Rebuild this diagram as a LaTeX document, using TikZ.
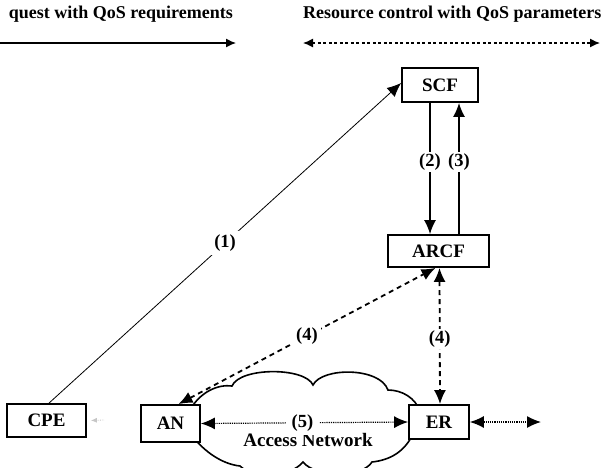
\documentclass[tikz,border=0pt]{standalone}
\usepackage{fontspec}
\setmainfont{Liberation Serif}
\usetikzlibrary{arrows.meta,calc}
\begin{document}
\begin{tikzpicture}[x=1pt,y=-1pt,
  box/.style={draw,line width=1.8pt,fill=white,inner sep=0pt,font=\fontsize{19}{21}\selectfont\bfseries},
  lbl/.style={fill=white,inner sep=3.5pt,font=\fontsize{18.5}{20}\selectfont\bfseries},
  txt/.style={inner sep=0pt,font=\fontsize{18}{20}\selectfont\bfseries},
  tipend/.style={-{Latex[length=14pt,width=12pt]}},
  tipboth/.style={{Latex[length=14pt,width=12pt]}-{Latex[length=14pt,width=12pt]}},
  smalltips/.style={{Latex[length=10pt,width=9pt]}-{Latex[length=10pt,width=9pt]}},
  dashline/.style={line width=1.8pt,dash pattern=on 5pt off 4pt},
  fineline/.style={line width=1.3pt,dash pattern=on 3pt off 2.5pt},
  dotline/.style={line width=1.2pt,densely dotted},
  cloudline/.style={line width=1.6pt}
]
\useasboundingbox (0,0) rectangle (606,467);

% header
\node[txt,anchor=base east] (reqtxt) at (233,18) {quest with QoS requirements};
\node[txt,anchor=base west] (restxt) at (303,18) {Resource control with QoS parameters};
\coordinate (tl1) at (0,43);
\coordinate (tl2) at (236,43);
\coordinate (tr1) at (303,43);
\coordinate (tr2) at (600,43);
\draw[line width=1.3pt,-{Latex[length=10pt,width=9pt]}] (tl1) -- (tl2);
\draw[fineline,smalltips] (tr1) -- (tr2);

% cloud
\draw[cloudline]
  (190,410) .. controls (200,392) and (218,384) .. (232,386)
  .. controls (240,367) and (305,367) .. (313,385)
  .. controls (322,367) and (380,367) .. (388,390)
  .. controls (402,390) and (416,398) .. (420,412)
  -- (414,432)
  .. controls (405,452) and (390,460) .. (372,462)
  .. controls (362,478) and (316,478) .. (303,462)
  .. controls (290,478) and (252,478) .. (240,466)
  .. controls (222,464) and (205,452) .. (192,436) -- cycle;

% boxes
\node[box,minimum width=76pt,minimum height=34pt] (SCF) at (440,85) {SCF};
\node[box,minimum width=101pt,minimum height=32pt] (ARCF) at (438.5,251) {ARCF};
\node[box,minimum width=79pt,minimum height=33pt] (CPE) at (46.5,420.5) {CPE};
\node[box,minimum width=59pt,minimum height=37pt] (AN) at (170.5,423.5) {AN};
\node[box,minimum width=60pt,minimum height=34pt] (ER) at (439,422) {ER};

\node[txt,font=\fontsize{19}{21}\selectfont\bfseries] (accnet) at (308,440) {Access Network};

% (1)
\draw[line width=0.8pt,tipend] ([xshift=2.5pt]CPE.north) -- node[lbl,pos=0.5] {(1)} ([yshift=2pt]SCF.west);

% (2) and (3)
\draw[line width=1.5pt,tipend] ([xshift=-10pt]SCF.south) -- node[lbl,pos=0.45,inner sep=1.5pt] {(2)} ([xshift=-10pt]SCF.south |- ARCF.north);
\draw[line width=1.5pt,tipend] ([xshift=19pt]SCF.south |- ARCF.north) -- node[lbl,pos=0.55,inner sep=1.5pt] {(3)} ([xshift=19pt]SCF.south);

% (4)
\draw[dashline,tipboth] ([xshift=8pt]AN.north) -- node[lbl,pos=0.5] {(4)} ([xshift=-3pt]ARCF.south);
\draw[dashline,tipboth] ([xshift=1pt]ARCF.south) -- node[lbl,pos=0.52,inner sep=1.5pt] {(4)} ([xshift=1pt]ER.north);

% (5)
\draw[dotline,tipboth] (AN.east) -- node[lbl,pos=0.49,inner xsep=6pt] {(5)} (ER.west);

% ER outward
\coordinate (out) at (541,422);
\draw[dotline,tipboth] (ER.east) -- (out);

% faint CPE-AN
\coordinate (faint) at (104,420);
\draw[gray!45,line width=0.8pt,densely dotted,{Latex[length=6pt,width=5pt]}-] ([xshift=4pt]CPE.east) -- (faint);
\end{tikzpicture}
\end{document}
